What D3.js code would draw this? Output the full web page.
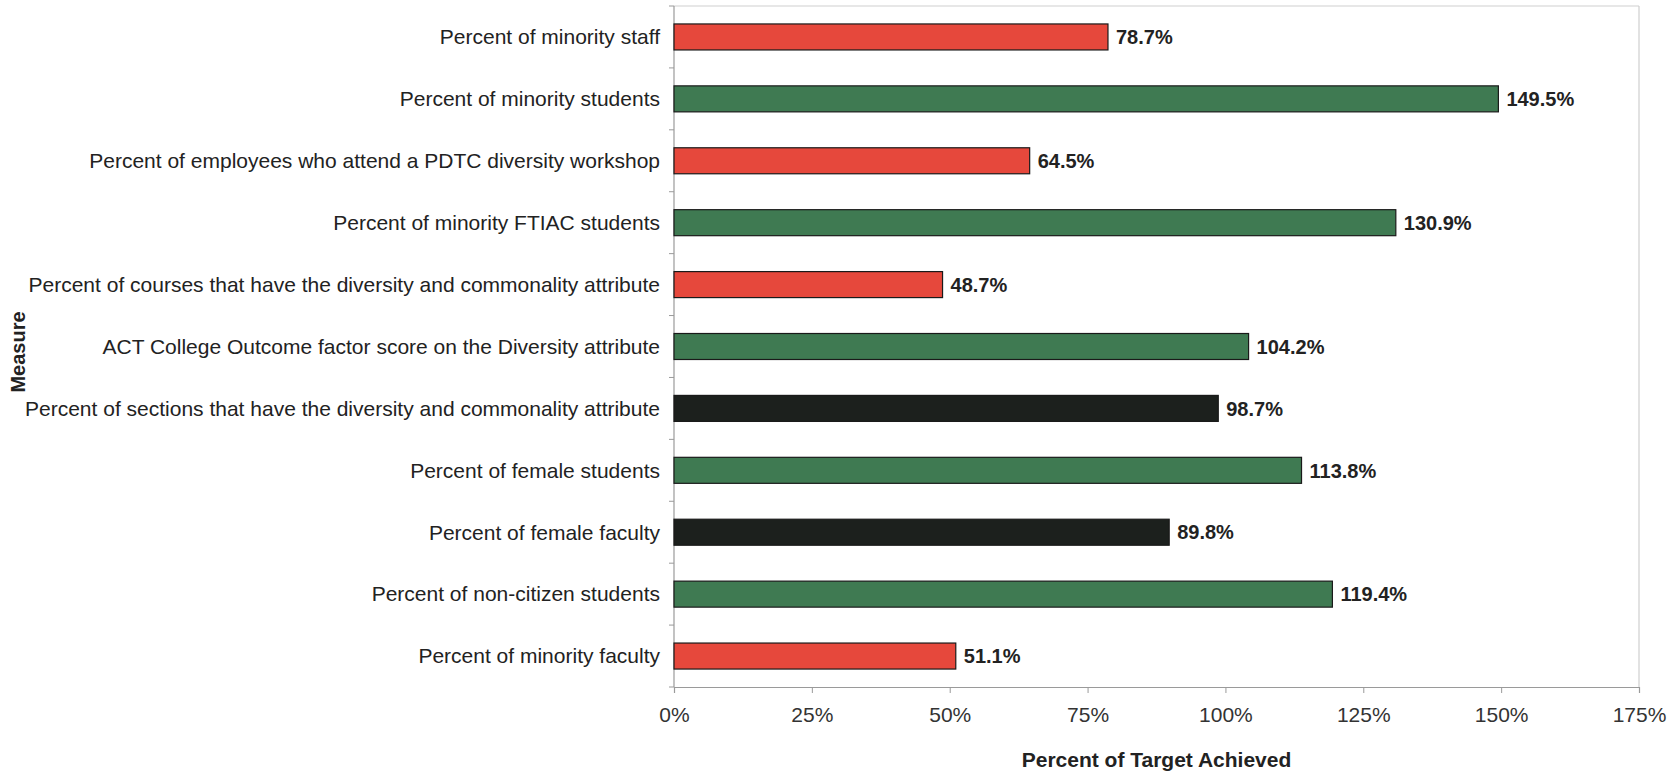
<!DOCTYPE html>
<html>
<head>
<meta charset="utf-8">
<script src="https://cdn.jsdelivr.net/npm/d3@7"></script>
<style>
  html, body { margin: 0; padding: 0; background: #fff; }
  svg { display: block; font-family: "Liberation Sans", Arial, sans-serif; }
</style>
</head>
<body>
<svg id="chart" width="1676" height="776"></svg>
<script>
// Diversity measures and percent of target achieved
const measures = [
  "Percent of minority staff",
  "Percent of minority students",
  "Percent of employees who attend a PDTC diversity workshop",
  "Percent of minority FTIAC students",
  "Percent of courses that have the diversity and commonality attribute",
  "ACT College Outcome factor score on the Diversity attribute",
  "Percent of sections that have the diversity and commonality attribute",
  "Percent of female students",
  "Percent of female faculty",
  "Percent of non-citizen students",
  "Percent of minority faculty"
];
const achieved = [78.7, 149.5, 64.5, 130.9, 48.7, 104.2, 98.7, 113.8, 89.8, 119.4, 51.1];
// status of each measure: below target, met target, close to target
const status = ["below", "met", "below", "met", "below", "met", "near", "met", "near", "met", "below"];
const xTicks = [0, 25, 50, 75, 100, 125, 150, 175];

const statusColor = { below: "#e6483c", met: "#3f7a52", near: "#1c201d" };

const svg = d3.select("#chart");
const plotLeft = 674, plotRight = 1639, plotTop = 6, plotBottom = 687;

const x = d3.scaleLinear().domain([0, 175]).range([plotLeft, plotRight]);
const y = d3.scaleBand().domain(measures).range([plotTop, plotBottom]).paddingInner(0.58).paddingOuter(0.29);

// plot frame
svg.append("line").attr("x1", plotLeft).attr("x2", plotRight).attr("y1", plotTop).attr("y2", plotTop)
  .attr("stroke", "#cfcfcf").attr("stroke-width", 1.2);
svg.append("line").attr("x1", plotRight).attr("x2", plotRight).attr("y1", plotTop).attr("y2", plotBottom)
  .attr("stroke", "#cfcfcf").attr("stroke-width", 1.2);

// x axis
const xAxis = svg.append("g").attr("transform", `translate(0,${plotBottom})`)
  .call(d3.axisBottom(x).tickValues(xTicks).tickFormat(d => d + "%").tickSize(6).tickPadding(14));
xAxis.select(".domain").attr("stroke", "#9a9a9a").attr("stroke-width", 1.2);
xAxis.selectAll(".tick line").attr("stroke", "#9a9a9a");
xAxis.selectAll(".tick text").attr("font-size", 21).attr("fill", "#333")
  .attr("font-family", "'Liberation Sans', Arial, sans-serif");

// y axis line with ticks at category boundaries
svg.append("line").attr("x1", plotLeft).attr("x2", plotLeft).attr("y1", plotTop).attr("y2", plotBottom)
  .attr("stroke", "#9a9a9a").attr("stroke-width", 1.2);
const step = (plotBottom - plotTop) / measures.length;
svg.append("g").selectAll("line")
  .data(d3.range(measures.length + 1))
  .join("line")
  .attr("x1", plotLeft - 5).attr("x2", plotLeft)
  .attr("y1", i => plotTop + i * step).attr("y2", i => plotTop + i * step)
  .attr("stroke", "#9a9a9a");

// category labels
svg.append("g").selectAll("text")
  .data(measures)
  .join("text")
  .attr("x", plotLeft - 14)
  .attr("y", d => y(d) + y.bandwidth() / 2)
  .attr("dy", "0.35em")
  .attr("text-anchor", "end")
  .attr("font-size", 21)
  .attr("fill", "#222")
  .text(d => d);

// bars
svg.append("g").selectAll("rect")
  .data(measures)
  .join("rect")
  .attr("x", x(0))
  .attr("y", d => y(d))
  .attr("width", (d, i) => x(achieved[i]) - x(0))
  .attr("height", y.bandwidth())
  .attr("fill", (d, i) => statusColor[status[i]])
  .attr("stroke", "#1a1a1a")
  .attr("stroke-width", 1.2);

// value labels
svg.append("g").selectAll("text")
  .data(measures)
  .join("text")
  .attr("x", (d, i) => x(achieved[i]) + 8)
  .attr("y", d => y(d) + y.bandwidth() / 2)
  .attr("dy", "0.36em")
  .attr("font-size", 20)
  .attr("font-weight", "bold")
  .attr("fill", "#222")
  .text((d, i) => achieved[i].toFixed(1) + "%");

// axis titles
svg.append("text")
  .attr("x", (plotLeft + plotRight) / 2)
  .attr("y", 767)
  .attr("text-anchor", "middle")
  .attr("font-size", 21)
  .attr("font-weight", "bold")
  .attr("fill", "#222")
  .text("Percent of Target Achieved");

svg.append("text")
  .attr("transform", "translate(25,352) rotate(-90)")
  .attr("text-anchor", "middle")
  .attr("font-size", 20)
  .attr("font-weight", "bold")
  .attr("fill", "#222")
  .text("Measure");
</script>
</body>
</html>
